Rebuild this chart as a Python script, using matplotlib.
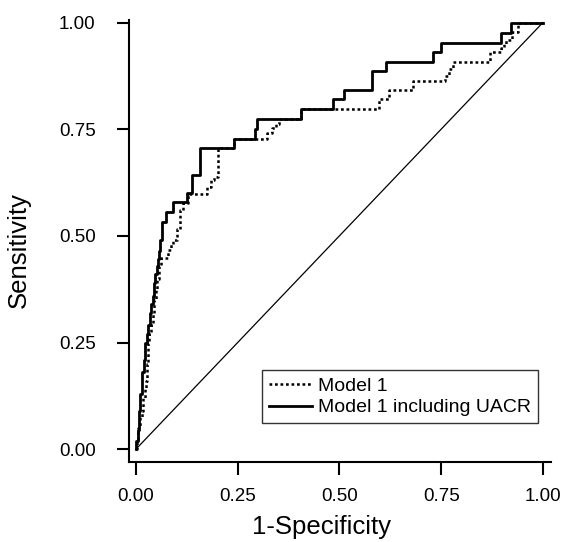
import matplotlib
matplotlib.use("Agg")
import matplotlib.pyplot as plt

plt.rcParams['font.family'] = ['Liberation Sans', 'DejaVu Sans']

# ROC points (1-specificity, sensitivity) for each model
fpr_model1 = [0.000, 0.002, 0.006, 0.010, 0.014, 0.018, 0.022, 0.026, 0.027, 0.029,
              0.033, 0.037, 0.042, 0.045, 0.049, 0.053, 0.057, 0.061, 0.079, 0.087,
              0.091, 0.100, 0.108, 0.116, 0.128, 0.174, 0.185, 0.192, 0.201, 0.240,
              0.323, 0.335, 0.345, 0.352, 0.405, 0.597, 0.621, 0.682, 0.760, 0.770,
              0.780, 0.869, 0.898, 0.904, 0.910, 0.925, 0.939, 1.000]
tpr_model1 = [0.000, 0.020, 0.050, 0.075, 0.090, 0.120, 0.140, 0.160, 0.200, 0.250,
              0.270, 0.290, 0.320, 0.350, 0.375, 0.400, 0.430, 0.447, 0.466, 0.482,
              0.490, 0.517, 0.560, 0.576, 0.597, 0.615, 0.630, 0.638, 0.705, 0.728,
              0.740, 0.752, 0.762, 0.775, 0.797, 0.820, 0.843, 0.863, 0.875, 0.890,
              0.908, 0.931, 0.940, 0.950, 0.959, 0.977, 1.000, 1.000]

fpr_uacr = [0.000, 0.000, 0.004, 0.007, 0.010, 0.014, 0.016, 0.020, 0.022, 0.027,
            0.030, 0.034, 0.038, 0.042, 0.045, 0.048, 0.051, 0.054, 0.057, 0.060,
            0.063, 0.075, 0.091, 0.125, 0.138, 0.158, 0.240, 0.293, 0.297, 0.405,
            0.485, 0.511, 0.580, 0.614, 0.729, 0.750, 0.898, 0.922, 1.000]
tpr_uacr = [0.000, 0.020, 0.045, 0.090, 0.130, 0.160, 0.180, 0.210, 0.250, 0.270,
            0.290, 0.320, 0.340, 0.360, 0.390, 0.410, 0.430, 0.445, 0.465, 0.490,
            0.533, 0.556, 0.580, 0.600, 0.642, 0.705, 0.728, 0.750, 0.775, 0.797,
            0.820, 0.843, 0.886, 0.908, 0.931, 0.953, 0.975, 1.000, 1.000]

ref_line = [0.0, 1.0]

x_ticks = [0.0, 0.25, 0.5, 0.75, 1.0]
x_tick_labels = ['0.00', '0.25', '0.50', '0.75', '1.00']
y_ticks = [0.0, 0.25, 0.5, 0.75, 1.0]
y_tick_labels = ['0.00', '0.25', '0.50', '0.75', '1.00']

fig = plt.figure(figsize=(5.62, 5.42), dpi=100)
ax = fig.add_axes([129/562, 1-462/542, (551-129)/562, (462-20)/542])

ax.plot(ref_line, ref_line, color='black', lw=0.9)
ax.plot(fpr_model1, tpr_model1, drawstyle='steps-post', color='black', lw=1.8,
        linestyle=(0, (1.1, 1.1)), label='Model 1')
ax.plot(fpr_uacr, tpr_uacr, drawstyle='steps-post', color='black', lw=2.0,
        label='Model 1 including UACR')

ax.set_xlim(-0.017, 1.02)
ax.set_ylim(-0.03, 1.006)
ax.set_xticks(x_ticks)
ax.set_xticklabels(x_tick_labels)
ax.set_yticks(y_ticks)
ax.set_yticklabels(y_tick_labels)
for s in ['top', 'right']:
    ax.spines[s].set_visible(False)
for s in ['left', 'bottom']:
    ax.spines[s].set_linewidth(1.5)
ax.tick_params(direction='out', length=9, width=1.5, labelsize=13.5)
ax.tick_params(axis='x', pad=10)
ax.tick_params(axis='y', pad=15)

ax.set_xlabel('1-Specificity', fontsize=18.5)
ax.set_ylabel('Sensitivity', fontsize=18.5)
ax.xaxis.set_label_coords(0.456, -0.12)
ax.yaxis.set_label_coords(-0.233, 0.48)

leg = ax.legend(loc='upper left', bbox_to_anchor=(262/562, 1-370/542),
                bbox_transform=fig.transFigure, fontsize=14, frameon=True,
                fancybox=False, edgecolor='black', borderaxespad=0,
                handlelength=2.2, handletextpad=0.3, labelspacing=0.21,
                borderpad=0.36)
leg.get_frame().set_linewidth(1.0)

fig.savefig('out.png', dpi=100)
